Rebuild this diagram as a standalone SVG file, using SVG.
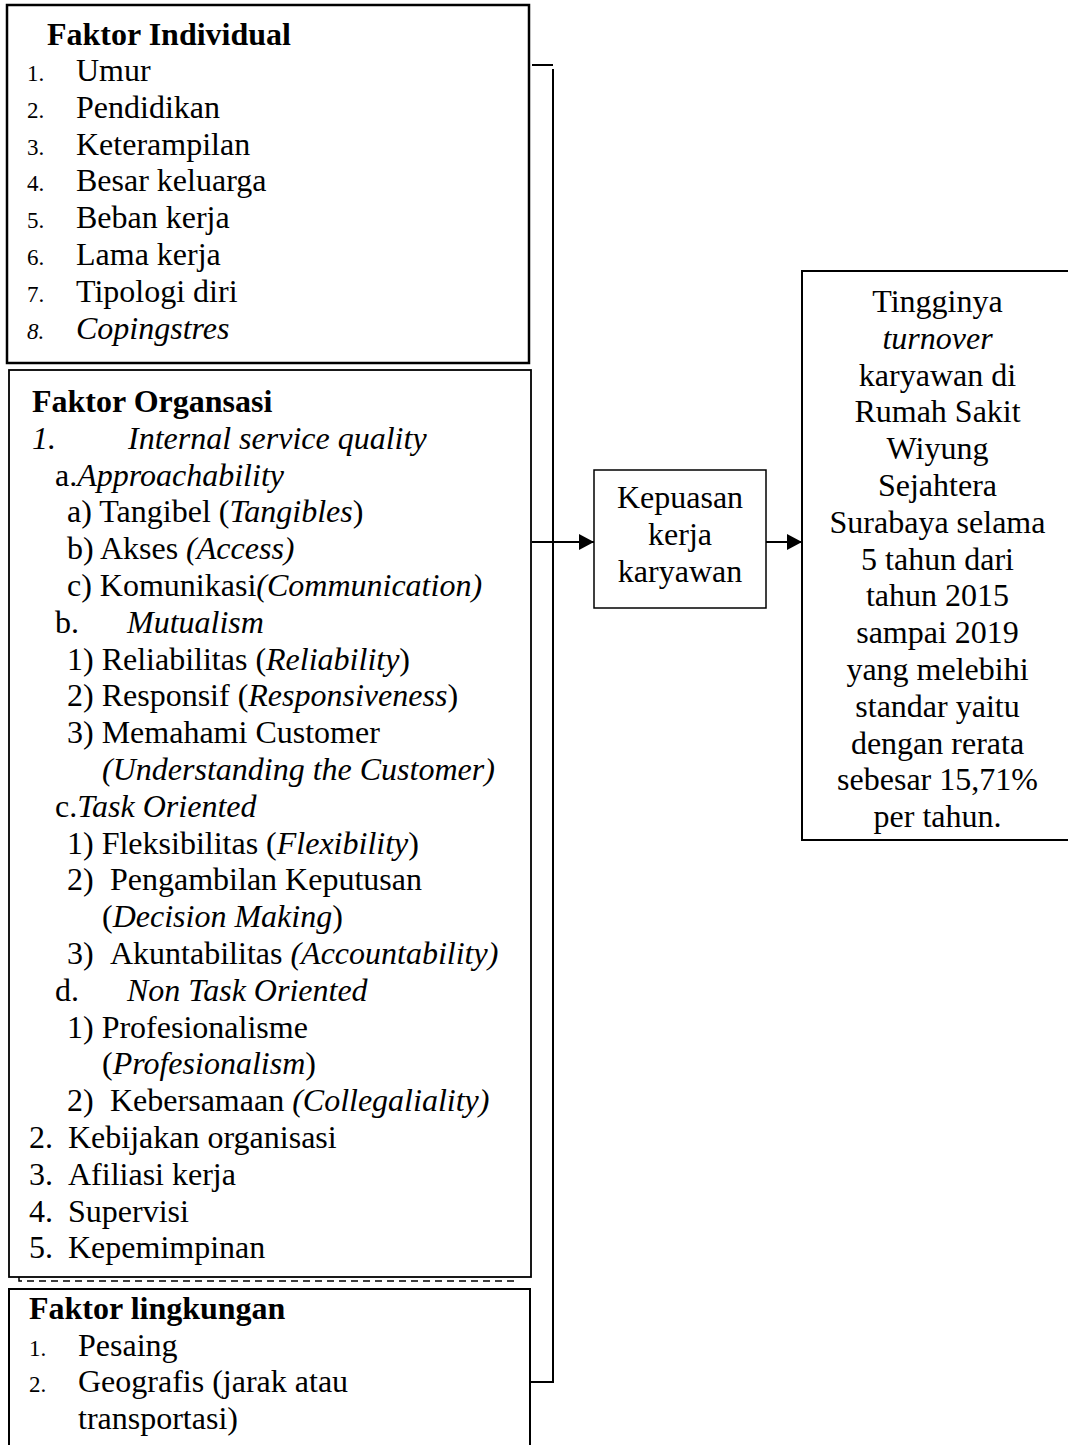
<svg xmlns="http://www.w3.org/2000/svg" width="1068" height="1445" viewBox="0 0 1068 1445">
<style>
.t{font-family:"Liberation Serif","Times New Roman",serif;font-size:32px;fill:#000}
.b{font-weight:bold}
.i{font-style:italic}
.n{font-size:23px}
.c{text-anchor:middle}
.box{fill:#fff;stroke:#000}
.ln{fill:none;stroke:#000;stroke-width:2}
</style>
<defs>
<marker id="ah" markerWidth="16" markerHeight="16" refX="15" refY="8" orient="auto" markerUnits="userSpaceOnUse">
<path d="M0,0 L15,8 L0,16 Z" fill="#000"/>
</marker>
</defs>
<rect width="1068" height="1445" fill="#fff"/>

<g id="individual">
<rect class="box" x="7" y="5" width="522" height="358" stroke-width="2.5"/>
<text class="t b" x="47" y="45">Faktor Individual</text>
<text class="t n" x="27" y="81">1.</text><text class="t" x="76" y="81">Umur</text>
<text class="t n" x="27" y="117.8">2.</text><text class="t" x="76" y="117.8">Pendidikan</text>
<text class="t n" x="27" y="154.6">3.</text><text class="t" x="76" y="154.6">Keterampilan</text>
<text class="t n" x="27" y="191.4">4.</text><text class="t" x="76" y="191.4">Besar keluarga</text>
<text class="t n" x="27" y="228.2">5.</text><text class="t" x="76" y="228.2">Beban kerja</text>
<text class="t n" x="27" y="265">6.</text><text class="t" x="76" y="265">Lama kerja</text>
<text class="t n" x="27" y="301.8">7.</text><text class="t" x="76" y="301.8">Tipologi diri</text>
<text class="t n i" x="27" y="338.6">8.</text><text class="t i" x="76" y="338.6">Copingstres</text>
</g>

<g id="organisasi">
<rect class="box" x="9" y="370" width="522" height="907" stroke-width="1.8"/>
<text class="t b" x="32" y="412">Faktor Organsasi</text>
<text class="t i" x="32" y="448.8">1.</text><text class="t i" x="128" y="448.8">Internal service quality</text>
<text class="t" x="55" y="485.6">a.<tspan class="i">Approachability</tspan></text>
<text class="t" x="67" y="522.4">a) Tangibel (<tspan class="i">Tangibles</tspan>)</text>
<text class="t" x="67" y="559.2">b) Akses <tspan class="i">(Access)</tspan></text>
<text class="t" x="67" y="596">c) Komunikasi<tspan class="i">(Communication)</tspan></text>
<text class="t" x="55" y="632.8">b.</text><text class="t i" x="127" y="632.8">Mutualism</text>
<text class="t" x="67" y="669.6">1) Reliabilitas (<tspan class="i">Reliability</tspan>)</text>
<text class="t" x="67" y="706.4">2) Responsif (<tspan class="i">Responsiveness</tspan>)</text>
<text class="t" x="67" y="743.2">3) Memahami Customer</text>
<text class="t i" x="102" y="780">(Understanding the Customer)</text>
<text class="t" x="55" y="816.8">c.<tspan class="i">Task Oriented</tspan></text>
<text class="t" x="67" y="853.6">1) Fleksibilitas (<tspan class="i">Flexibility</tspan>)</text>
<text class="t" x="67" y="890.4">2)</text><text class="t" x="110" y="890.4">Pengambilan Keputusan</text>
<text class="t" x="102" y="927.2">(<tspan class="i">Decision Making</tspan>)</text>
<text class="t" x="67" y="964">3)</text><text class="t" x="110" y="964">Akuntabilitas <tspan class="i">(Accountability)</tspan></text>
<text class="t" x="55" y="1000.8">d.</text><text class="t i" x="127" y="1000.8">Non Task Oriented</text>
<text class="t" x="67" y="1037.6">1) Profesionalisme</text>
<text class="t" x="102" y="1074.4">(<tspan class="i">Profesionalism</tspan>)</text>
<text class="t" x="67" y="1111.2">2)</text><text class="t" x="110" y="1111.2">Kebersamaan <tspan class="i">(Collegaliality)</tspan></text>
<text class="t" x="29" y="1148">2.</text><text class="t" x="68" y="1148">Kebijakan organisasi</text>
<text class="t" x="29" y="1184.8">3.</text><text class="t" x="68" y="1184.8">Afiliasi kerja</text>
<text class="t" x="29" y="1221.6">4.</text><text class="t" x="68" y="1221.6">Supervisi</text>
<text class="t" x="29" y="1258.4">5.</text><text class="t" x="68" y="1258.4">Kepemimpinan</text>
</g>

<g id="lingkungan">
<rect class="box" x="9" y="1289" width="521" height="170" stroke-width="2"/>
<text class="t b" x="29" y="1319">Faktor lingkungan</text>
<text class="t n" x="29" y="1355.5">1.</text><text class="t" x="78" y="1355.5">Pesaing</text>
<text class="t n" x="29" y="1392">2.</text><text class="t" x="78" y="1392">Geografis (jarak atau</text>
<text class="t" x="78" y="1428.5">transportasi)</text>
</g>

<g id="kepuasan">
<rect class="box" x="594" y="470" width="172" height="138" stroke-width="1.5"/>
<text class="t c" x="680" y="508">Kepuasan</text>
<text class="t c" x="680" y="545">kerja</text>
<text class="t c" x="680" y="582">karyawan</text>
</g>

<g id="turnover">
<rect class="box" x="802" y="271" width="275" height="569" stroke-width="2"/>
<text class="t c" x="937.5" y="312">Tingginya</text>
<text class="t c i" x="937.5" y="348.8">turnover</text>
<text class="t c" x="937.5" y="385.6">karyawan di</text>
<text class="t c" x="937.5" y="422.4">Rumah Sakit</text>
<text class="t c" x="937.5" y="459.2">Wiyung</text>
<text class="t c" x="937.5" y="496">Sejahtera</text>
<text class="t c" x="937.5" y="532.8">Surabaya selama</text>
<text class="t c" x="937.5" y="569.6">5 tahun dari</text>
<text class="t c" x="937.5" y="606.4">tahun 2015</text>
<text class="t c" x="937.5" y="643.2">sampai 2019</text>
<text class="t c" x="937.5" y="680">yang melebihi</text>
<text class="t c" x="937.5" y="716.8">standar yaitu</text>
<text class="t c" x="937.5" y="753.6">dengan rerata</text>
<text class="t c" x="937.5" y="790.4">sebesar 15,71%</text>
<text class="t c" x="937.5" y="827.2">per tahun.</text>
</g>

<g id="connectors">
<path class="ln" d="M532,65 H553"/>
<path class="ln" d="M553,69 V1382 H530"/>
<path d="M19,1277 V1281 H517" fill="none" stroke="#000" stroke-width="1.5" stroke-dasharray="7,5"/>
<path class="ln" d="M532,542 H594" marker-end="url(#ah)"/>
<path class="ln" d="M766,542 H802" marker-end="url(#ah)"/>
</g>
</svg>
